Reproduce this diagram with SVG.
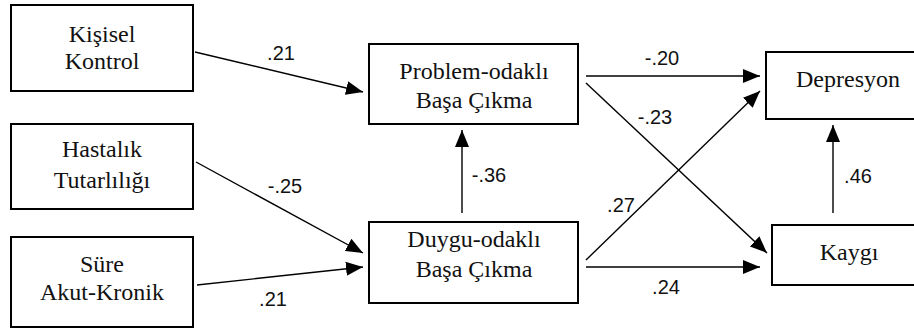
<svg xmlns="http://www.w3.org/2000/svg" width="914" height="331" viewBox="0 0 914 331">
<style>
.box{fill:#fff;stroke:#000;stroke-width:2}
.nt{font-family:'Liberation Serif','DejaVu Serif',serif;font-size:24px;fill:#111;text-anchor:middle}
.lbl{font-family:'Liberation Sans',Arial,sans-serif;font-size:20px;fill:#111;text-anchor:middle}
.edge{stroke:#000;stroke-width:1.4;fill:none;marker-end:url(#ah)}
</style>
<defs>
<marker id="ah" markerUnits="userSpaceOnUse" markerWidth="18" markerHeight="14" refX="17" refY="7" orient="auto">
<path d="M0,0 L17,7 L0,14 z" fill="#000"/>
</marker>
</defs>
<rect width="914" height="331" fill="#fff"/>
<g id="n-kisisel"><rect class="box" x="11" y="5" width="182" height="86"/><text class="nt" x="102" y="42">Kişisel</text><text class="nt" x="102" y="69">Kontrol</text></g>
<g id="n-hastalik"><rect class="box" x="11" y="124" width="182" height="85"/><text class="nt" x="102" y="157">Hastalık</text><text class="nt" x="102" y="188">Tutarlılığı</text></g>
<g id="n-sure"><rect class="box" x="11" y="237" width="182" height="90"/><text class="nt" x="102" y="272">Süre</text><text class="nt" x="102" y="300">Akut-Kronik</text></g>
<g id="n-problem"><rect class="box" x="369" y="44" width="209" height="80"/><text class="nt" x="474" y="79">Problem-odaklı</text><text class="nt" x="474" y="108">Başa Çıkma</text></g>
<g id="n-duygu"><rect class="box" x="369" y="222" width="209" height="81"/><text class="nt" x="474" y="247">Duygu-odaklı</text><text class="nt" x="474" y="277">Başa Çıkma</text></g>
<g id="n-depresyon"><rect class="box" x="766" y="52" width="166" height="67"/><text class="nt" x="848" y="87">Depresyon</text></g>
<g id="n-kaygi"><rect class="box" x="772" y="225" width="160" height="60"/><text class="nt" x="849" y="260">Kaygı</text></g>
<g id="connectors">
<line class="edge" x1="195" y1="52" x2="363" y2="92"/>
<line class="edge" x1="196" y1="162" x2="363" y2="253"/>
<line class="edge" x1="197" y1="285" x2="363" y2="267"/>
<line class="edge" x1="586" y1="76" x2="760" y2="76"/>
<line class="edge" x1="586" y1="83" x2="767" y2="253"/>
<line class="edge" x1="586" y1="260" x2="760" y2="91"/>
<line class="edge" x1="586" y1="267" x2="760" y2="267"/>
<line class="edge" x1="462" y1="213" x2="462" y2="130"/>
<line class="edge" x1="833" y1="213" x2="833" y2="125"/>
</g>
<g id="labels">
<text class="lbl" x="281" y="60">.21</text>
<text class="lbl" x="662" y="65">-.20</text>
<text class="lbl" x="655" y="124">-.23</text>
<text class="lbl" x="489" y="182">-.36</text>
<text class="lbl" x="858" y="183">.46</text>
<text class="lbl" x="621" y="212">.27</text>
<text class="lbl" x="666" y="294">.24</text>
<text class="lbl" x="285" y="193">-.25</text>
<text class="lbl" x="273" y="306">.21</text>
</g>
</svg>
